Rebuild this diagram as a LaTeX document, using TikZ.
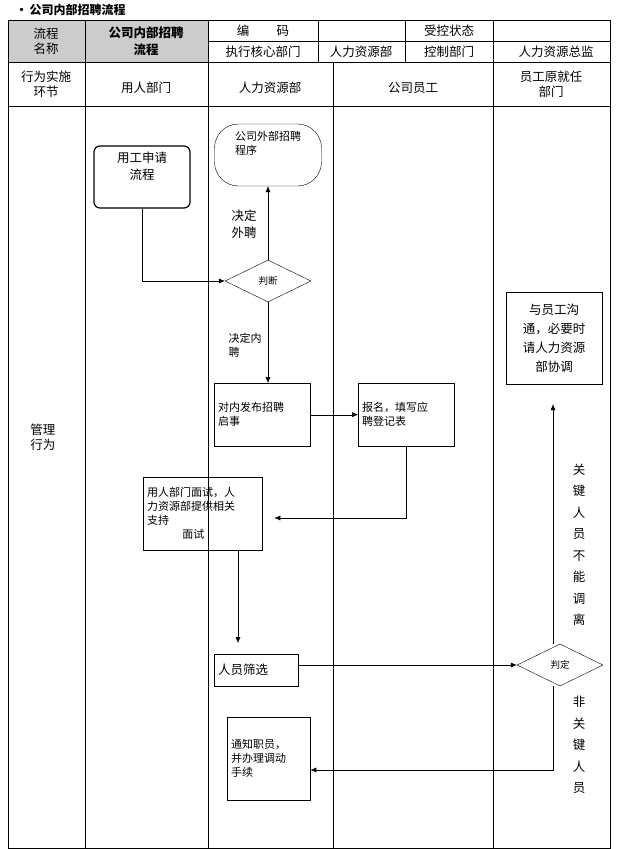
\documentclass[tikz,border=0pt]{standalone}
\usepackage{fontspec}
\setmainfont{Noto Sans CJK SC}
\usetikzlibrary{shapes.geometric,arrows.meta}
\tikzset{
  proc/.style={draw,thin,align=left,inner sep=3pt,font=\fontsize{11}{14}\selectfont},
  choice/.style={draw,thin,diamond,aspect=2,minimum width=86pt,minimum height=42pt,inner sep=0pt,font=\fontsize{9.5}{11}\selectfont},
  flow/.style={-{Latex[length=6pt,width=5pt]},thin},
  head/.style={font=\fontsize{12.5}{15}\selectfont,align=center},
  note/.style={font=\fontsize{11}{14}\selectfont,align=left}
}
\begin{document}
\begin{tikzpicture}[x=1pt,y=-1pt]
    \useasboundingbox (0,0) rectangle (640,849);

    % Title
    \node[anchor=west,font=\bfseries\fontsize{12}{14}\selectfont] (title) at (12,10) {·\,公司内部招聘流程};

    % Header table
    \fill[gray!40] (8,20) rectangle (208,62);
    \draw (8,20) rectangle (610,848);
    \draw (8,62) -- (610,62);
    \draw (8,106) -- (610,106);
    \draw (208,41) -- (610,41);
    \foreach \x in {85,208,318,405,493} \draw (\x,20) -- (\x,62);
    \foreach \x in {85,208,333,493} \draw (\x,62) -- (\x,848);

    \node[head] (h1) at (46,41) {流程\\名称};
    \node[head,font=\bfseries\fontsize{12.5}{17}\selectfont] (h2) at (146,41) {公司内部招聘\\流程};
    \node[head] (h3) at (263,31) {编\hspace{2.2em}码};
    \node[head] (h4) at (449,31) {受控状态};
    \node[head] (h5) at (263,52) {执行核心部门};
    \node[head] (h6) at (361,52) {人力资源部};
    \node[head] (h7) at (449,52) {控制部门};
    \node[head] (h8) at (556,52) {人力资源总监};
    \node[head] (l1) at (46,84) {行为实施\\环节};
    \node[head] (l2) at (146,88) {用人部门};
    \node[head] (l3) at (270,88) {人力资源部};
    \node[head] (l4) at (413,88) {公司员工};
    \node[head] (l5) at (551,84) {员工原就任\\部门};
    \node[head] (l6) at (43,437) {管理\\行为};

    % Steps
    \node[draw,very thick,rounded corners=6pt,minimum width=96pt,minimum height=62pt,align=center,font=\fontsize{12.5}{17}\selectfont] (apply) at (142,177) {用工申请\\流程\\[6pt]};
    \node[proc,rounded corners=24pt,minimum width=107pt,minimum height=62pt] (outer) at (268,155) {公司外部招聘\\程序\\[10pt]};
    \node[choice] (judge) at (268,281) {判断};
    \node[proc,minimum width=96pt,minimum height=63pt,anchor=north west,text width=88pt] (post) at (214,383) {对内发布招聘\\启事\\[14pt]};
    \node[proc,minimum width=96pt,minimum height=63pt,anchor=north west,text width=88pt] (sign) at (358,383) {报名，填写应\\聘登记表\\[14pt]};
    \node[proc,minimum width=119pt,minimum height=73pt,anchor=north west,text width=111pt] (talk) at (143,477) {用人部门面试，人\\力资源部提供相关\\支持\\\hspace*{3.2em}面试};
    \node[proc,minimum width=84pt,minimum height=32pt,font=\fontsize{12.5}{15}\selectfont,anchor=north west,text width=76pt] (pick) at (214,654) {人员筛选};
    \node[choice] (decide) at (560,665) {判定};
    \node[proc,minimum width=96pt,minimum height=92pt,align=center,font=\fontsize{12.5}{19}\selectfont] (talkold) at (554,338) {与员工沟\\通，必要时\\请人力资源\\部协调};
    \node[proc,minimum width=83pt,minimum height=83pt,anchor=north west,text width=75pt] (notice) at (227,717) {通知职员，\\并办理调动\\手续\\[12pt]};

    % Connectors
    \coordinate (c1) at (142,281);
    \coordinate (c2) at (406,518);
    \coordinate (c3) at (553,770);
    \coordinate (c4) at (238,550);
    \coordinate (c5) at (238,643);
    \draw[flow] (apply.south) -- (c1) -- (judge.west);
    \draw[flow] (judge.north) -- (outer.south);
    \draw[flow] (judge.south) -- (post.north -| judge.south);
    \draw[flow] (post.east) -- (sign.west);
    \draw[flow] (sign.south -| c2) -- (c2) -- ([xshift=12pt]talk.east |- c2);
    \draw[flow] (c4) -- (c5);
    \draw[flow] (pick.east |- decide.west) -- (decide.west);
    \draw[flow] (decide.north -| c3) -- ([yshift=-20pt]talkold.south -| c3);
    \draw[flow] (decide.south -| c3) -- (c3) -- (notice.east |- c3);

    % Labels
    \node[note,font=\fontsize{12.5}{17}\selectfont] (t1) at (244,224) {决定\\外聘};
    \node[note] (t2) at (245,345) {决定内\\聘};
    \node[note,font=\fontsize{12.5}{21.5}\selectfont] (t3) at (579,545) {关\\键\\人\\员\\不\\能\\调\\离};
    \node[note,font=\fontsize{12.5}{21.5}\selectfont] (t4) at (579,745) {非\\关\\键\\人\\员};
\end{tikzpicture}
\end{document}
